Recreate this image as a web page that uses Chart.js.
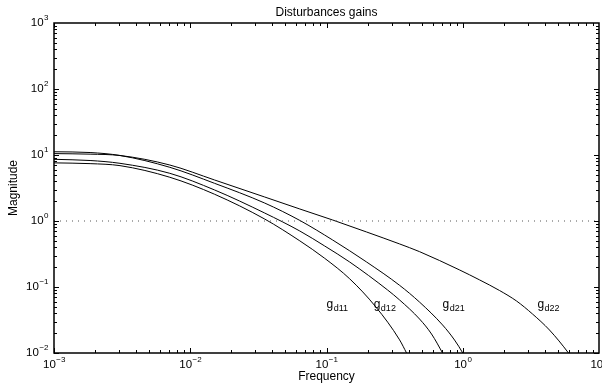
<!DOCTYPE html>
<html>
<head>
<meta charset="utf-8">
<script src="https://cdn.jsdelivr.net/npm/chart.js@4/dist/chart.umd.min.js"></script>
<style>
  html, body { margin: 0; padding: 0; background: #fff; }
  #grafico { display: block; }
</style>
</head>
<body>
<canvas id="grafico" width="602" height="383"></canvas>
<script>
// valores (frequencia x magnitude)
const freqD11 = [0.001, 0.00184, 0.00305, 0.00708, 0.0151, 0.0352, 0.0637, 0.097, 0.148, 0.23, 0.344, 0.387, 0.42];
const magD11  = [7.6, 7.4, 6.9, 4.6, 2.54, 1.07, 0.5, 0.272, 0.133, 0.05, 0.0158, 0.01, 0.0073];

const freqD12 = [0.001, 0.00184, 0.00305, 0.00708, 0.0151, 0.0352, 0.0637, 0.097, 0.148, 0.281, 0.344, 0.482, 0.59, 0.711, 0.76];
const magD12  = [8.6, 8.25, 7.48, 5.28, 2.95, 1.32, 0.705, 0.418, 0.239, 0.09, 0.0636, 0.0327, 0.0194, 0.01, 0.0078];

const freqD21 = [0.001, 0.00184, 0.00305, 0.00708, 0.0151, 0.0352, 0.0637, 0.111, 0.197, 0.344, 0.482, 0.711, 0.871, 1.0, 1.066];
const magD21  = [11.2, 10.9, 9.83, 6.51, 3.72, 1.87, 1.02, 0.515, 0.239, 0.106, 0.059, 0.0266, 0.0157, 0.01, 0.0078];

const freqD22 = [0.001, 0.00184, 0.00305, 0.00708, 0.0151, 0.0352, 0.0637, 0.111, 0.197, 0.344, 0.482, 0.949, 1.33, 1.862, 2.48, 3.25, 4.33, 5.97, 6.38];
const magD22  = [10.5, 10.3, 9.83, 7.05, 4.18, 2.31, 1.52, 1.035, 0.681, 0.449, 0.343, 0.181, 0.128, 0.0885, 0.0614, 0.039, 0.0223, 0.01, 0.0082];

// linha de referencia (pontilhada) em magnitude 1
const refFreq = [0.001, 10];
const refMag = [1, 1];

// rotulos das curvas: nome, subscrito, posicao (freq, mag)
const nomesCurvas = ['g', 'g', 'g', 'g'];
const subCurvas = ['d11', 'd12', 'd21', 'd22'];
const rotuloFreq = [0.1, 0.222, 0.711, 3.53];
const rotuloMag = [0.048, 0.048, 0.048, 0.048];

// expoentes dos ticks
const expX = [-3, -2, -1, 0, 1];
const expY = [-2, -1, 0, 1, 2, 3];

const FONTE = '"Liberation Sans", Arial, sans-serif';

function pares(xs, ys) {
  return xs.map((x, i) => ({ x, y: ys[i] }));
}

function serie(xs, ys) {
  return {
    data: pares(xs, ys),
    borderColor: '#000',
    borderWidth: 1,
    pointRadius: 0,
    fill: false,
    cubicInterpolationMode: 'monotone'
  };
}

// desenha "10" com expoente
function potencia(ctx, exp, x, y, alinhar) {
  const base = '10';
  const sup = exp < 0 ? '\u2212' + Math.abs(exp) : String(exp);
  ctx.font = '11.5px ' + FONTE;
  const wb = ctx.measureText(base).width;
  ctx.font = '8px ' + FONTE;
  const ws = ctx.measureText(sup).width;
  let x0;
  if (alinhar === 'right') x0 = x - wb - ws;
  else x0 = x - (wb + ws) / 2;
  ctx.textBaseline = 'middle';
  ctx.textAlign = 'left';
  ctx.font = '11.5px ' + FONTE;
  ctx.fillText(base, x0, y);
  ctx.font = '8px ' + FONTE;
  ctx.fillText(sup, x0 + wb + 0.5, y - 5);
}

const molduraMatlab = {
  id: 'molduraMatlab',
  afterDatasetsDraw(chart) {
    const { ctx, chartArea: a, scales } = chart;
    const sx = scales.x, sy = scales.y;
    ctx.save();
    ctx.strokeStyle = '#000';
    ctx.fillStyle = '#000';

    // caixa
    ctx.lineWidth = 1.5;
    ctx.strokeRect(a.left, a.top, a.right - a.left, a.bottom - a.top);

    // ticks internos
    ctx.lineWidth = 1;
    ctx.beginPath();
    for (let e = -3; e < 1; e++) {
      for (let k = 1; k <= 9; k++) {
        const v = k * Math.pow(10, e);
        const px = Math.round(sx.getPixelForValue(v)) + 0.5;
        const len = k === 1 ? 5 : 3;
        ctx.moveTo(px, a.bottom); ctx.lineTo(px, a.bottom - len);
        ctx.moveTo(px, a.top); ctx.lineTo(px, a.top + len);
      }
    }
    for (let e = -2; e < 3; e++) {
      for (let k = 1; k <= 9; k++) {
        const v = k * Math.pow(10, e);
        const py = Math.round(sy.getPixelForValue(v)) + 0.5;
        const len = k === 1 ? 5 : 3;
        ctx.moveTo(a.left, py); ctx.lineTo(a.left + len, py);
        ctx.moveTo(a.right, py); ctx.lineTo(a.right - len, py);
      }
    }
    ctx.stroke();

    // rotulos dos ticks
    expX.forEach(e => {
      potencia(ctx, e, sx.getPixelForValue(Math.pow(10, e)), a.bottom + 12, 'center');
    });
    expY.forEach(e => {
      potencia(ctx, e, a.left - 6, sy.getPixelForValue(Math.pow(10, e)), 'right');
    });

    // titulos
    ctx.font = '12px ' + FONTE;
    ctx.textAlign = 'center';
    ctx.textBaseline = 'middle';
    const cx = (a.left + a.right) / 2;
    ctx.fillText('Disturbances gains', cx, 13);
    ctx.fillText('Frequency', cx, 377);
    ctx.save();
    ctx.translate(14, (a.top + a.bottom) / 2);
    ctx.rotate(-Math.PI / 2);
    ctx.fillText('Magnitude', 0, 0);
    ctx.restore();

    // rotulos das curvas
    nomesCurvas.forEach((n, i) => {
      const px = sx.getPixelForValue(rotuloFreq[i]);
      const py = sy.getPixelForValue(rotuloMag[i]);
      ctx.textAlign = 'left';
      ctx.textBaseline = 'alphabetic';
      ctx.font = '12px ' + FONTE;
      ctx.fillText(n, px, py);
      const w = ctx.measureText(n).width;
      ctx.font = '9px ' + FONTE;
      ctx.fillText(subCurvas[i], px + w + 0.5, py + 3);
    });

    ctx.restore();
  }
};

const pontilhada = {
  data: pares(refFreq, refMag),
  borderColor: '#555',
  borderWidth: 1,
  borderDash: [1, 5],
  pointRadius: 0,
  fill: false
};

new Chart(document.getElementById('grafico').getContext('2d'), {
  type: 'line',
  data: {
    datasets: [
      pontilhada,
      serie(freqD11, magD11),
      serie(freqD12, magD12),
      serie(freqD21, magD21),
      serie(freqD22, magD22)
    ]
  },
  options: {
    responsive: false,
    animation: false,
    layout: { padding: { left: 54, right: 3, top: 23, bottom: 30 } },
    plugins: {
      legend: { display: false },
      tooltip: { enabled: false },
      title: { display: false }
    },
    scales: {
      x: { type: 'logarithmic', min: 0.001, max: 10, display: false },
      y: { type: 'logarithmic', min: 0.01, max: 1000, display: false }
    }
  },
  plugins: [molduraMatlab]
});
</script>
</body>
</html>
